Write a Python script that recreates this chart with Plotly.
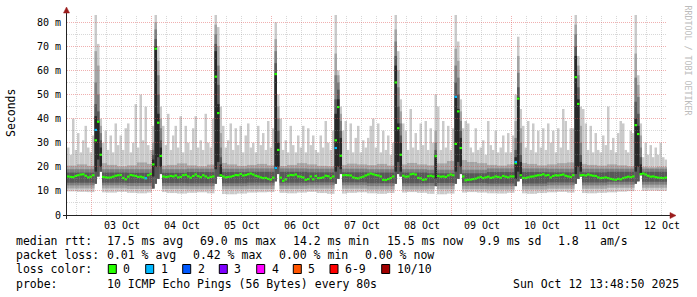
import plotly.graph_objects as go
import pandas as pd

# ---------------- data ----------------
START = "2025-10-02 14:00"          # first hourly column
N_HOURS = 240

x_labels = ["03 Oct", "04 Oct", "05 Oct", "06 Oct", "07 Oct",
            "08 Oct", "09 Oct", "10 Oct", "11 Oct", "12 Oct"]
y_ticks = [0, 10, 20, 30, 40, 50, 60, 70, 80]
y_labels = ["0", "10 m", "20 m", "30 m", "40 m", "50 m", "60 m", "70 m", "80 m"]

# highest of the 10 pings, per hour (ms)
ping_max = [
    28, 25, 40, 27, 34, 26, 31, 37, 28, 26,
    33, 83, 71,
    40, 30, 35, 27, 33, 26, 38, 29, 33, 27, 36, 38, 26, 30, 46, 28, 50, 31, 45, 29, 27,
    37, 84, 70, 45,
    37, 29, 42, 27, 33, 37, 28, 41, 26, 37, 30, 27, 36, 41, 28, 31, 27, 42, 30, 28,
    40, 84, 78, 45,
    37, 28, 31, 38, 27, 36, 29, 37, 26, 33, 38, 28, 30, 26, 37, 29, 34, 27, 39, 28,
    36, 80, 50, 40,
    27, 31, 26, 37, 29, 26, 33, 28, 37, 26, 36, 29, 33, 27, 26, 33, 28, 39, 30, 27,
    35, 83, 60, 45, 35,
    39, 27, 38, 26, 32, 37, 26, 31, 28, 32, 37, 40, 28, 38, 26, 35, 27, 33, 25,
    30, 84, 68, 48, 38,
    35, 27, 44, 28, 34, 27, 38, 29, 39, 27, 36, 30, 50, 45, 27, 39, 28, 37, 27,
    36, 84, 72, 48, 36,
    39, 38, 28, 26, 36, 27, 28, 31, 25, 39, 29, 27, 35, 26, 28, 33, 26, 34, 26,
    33, 50, 74, 44,
    37, 28, 39, 27, 38, 26, 35, 28, 36, 27, 38, 30, 35, 26, 36, 28, 44, 39, 27, 36,
    36, 84, 66, 45,
    44, 38, 27, 37, 26, 34, 27, 26, 33, 29, 45, 27, 32, 26, 34, 39, 38, 27, 26, 35,
    34, 83, 58, 38,
    24, 30, 25, 29, 24, 28, 25, 30, 24, 23,
]

# median rtt per hour (ms)
median = [
    16.0, 15.8, 15.7, 16.2, 16.5, 16.8, 16.9, 16.3, 15.6, 15.9,
    16.5, 31.0, 38.7, 25.0,
    15.8, 15.6, 15.5, 15.6, 15.9, 16.3, 16.5, 16.6, 15.4, 14.8, 15.9, 16.6, 16.4, 16.2, 15.8, 15.9, 15.6, 15.2, 16.5, 17.0,
    21.0, 69.0, 38.3, 24.5,
    16.0, 15.8, 15.9, 16.2, 16.0, 16.4, 15.6, 15.8, 16.5, 16.7, 16.0, 15.5, 16.2, 16.8, 16.1, 15.7, 16.5, 16.0, 15.4, 15.8,
    16.0, 57.4, 42.3, 16.5,
    16.0, 15.6, 15.8, 15.9, 16.2, 16.6, 16.5, 17.0, 16.4, 16.6, 16.9, 17.2, 16.8, 16.3, 16.0, 15.6, 15.3, 15.4, 15.0, 14.7,
    15.5, 58.5, 27.0, 15.5,
    14.2, 14.8, 16.3, 16.6, 16.5, 16.8, 16.0, 15.9, 15.6, 14.6, 14.9, 16.0, 14.8, 16.2, 15.3, 15.4, 15.6, 16.3, 16.1, 15.3,
    16.0, 31.0, 44.8, 24.6, 16.5,
    16.6, 16.5, 16.4, 15.6, 15.3, 15.2, 15.6, 15.9, 16.4, 16.8, 17.2, 16.9, 16.6, 16.4, 16.0, 14.6, 14.5, 14.9, 15.3,
    16.0, 55.0, 36.0, 25.0, 16.3,
    15.9, 16.0, 16.9, 17.1, 16.8, 15.4, 15.2, 14.6, 14.8, 16.1, 16.3, 16.0, 24.4, 16.2, 15.9, 16.0, 15.8, 16.4, 16.8,
    16.5, 29.5, 43.0, 27.8, 16.0,
    14.4, 14.6, 14.7, 14.9, 15.1, 15.5, 15.8, 15.3, 15.6, 15.9, 15.4, 15.6, 16.0, 15.8, 15.5, 16.2, 15.9, 15.6, 16.0,
    16.0, 21.5, 48.3, 16.5,
    15.4, 15.3, 15.6, 15.9, 16.0, 16.3, 16.5, 16.6, 16.9, 16.4, 16.6, 15.6, 16.2, 16.5, 16.4, 16.6, 16.8, 16.3, 16.0, 15.8,
    16.5, 57.2, 46.1, 16.5,
    16.6, 16.4, 16.8, 16.5, 16.3, 16.2, 15.6, 15.3, 15.4, 15.6, 15.3, 15.0, 14.8, 14.6, 15.0, 14.8, 15.3, 15.6, 15.9, 15.7,
    16.0, 37.3, 33.6, 17.0,
    17.2, 16.8, 16.3, 15.9, 16.0, 15.7, 15.5, 15.4, 15.3, 15.5,
]

# lowest ping and 9th ping, per 4-hour block (ms)
block4_p1 = [
    9.8, 9.6, 9.5, 9.4, 9.3, 9.6, 9.2, 9.0, 9.3, 9.5,
    9.1, 8.9, 9.2, 9.4, 9.0, 8.7, 8.6, 8.9, 9.3, 9.4,
    9.5, 9.2, 9.0, 9.3, 9.6, 9.1, 8.8, 8.9, 9.2, 9.4,
    9.0, 8.8, 9.1, 9.3, 9.5, 9.2, 8.8, 8.6, 8.9, 9.3,
    9.5, 9.3, 9.0, 8.9, 9.2, 9.0, 8.8, 9.1, 9.4, 9.6,
    9.3, 9.1, 9.0, 9.2, 9.4, 9.7, 9.9, 10.0, 10.1, 10.0,
]
block4_p9 = [
    20.5, 21.0, 20.4, 21.5, 20.8, 20.2, 20.6, 21.8, 21.2, 20.5,
    20.8, 21.4, 20.6, 20.2, 20.9, 21.6, 21.0, 20.4, 20.8, 21.2,
    20.6, 20.3, 20.8, 21.5, 21.0, 20.4, 20.2, 20.8, 21.3, 21.0,
    20.7, 21.2, 20.5, 21.0, 21.6, 21.0, 20.6, 21.4, 22.4, 22.8,
    22.0, 21.5, 20.8, 20.5, 21.0, 21.6, 21.2, 20.6, 21.0, 21.5,
    21.8, 21.2, 20.8, 20.5, 21.0, 20.6, 20.2, 20.0, 19.8, 20.0,
]
# inner pings, per day-long block (ms)
daily_p2 = [11.0, 10.8, 10.7, 10.8, 10.9, 10.6, 10.7, 10.6, 10.9, 11.3]
daily_p3 = [12.3, 12.1, 12.0, 12.2, 12.3, 12.0, 12.1, 12.0, 12.3, 12.6]
daily_p4 = [13.4, 13.3, 13.2, 13.4, 13.5, 13.2, 13.3, 13.1, 13.5, 13.8]
daily_p7 = [17.6, 17.5, 17.8, 17.9, 17.7, 17.6, 17.3, 17.8, 17.7, 17.9]
daily_p8 = [19.0, 19.0, 19.2, 19.3, 19.2, 19.0, 18.8, 19.3, 19.2, 19.2]

# hours with latency spikes and their ping spread (ms)
spike_hour = [11, 12, 13, 34, 35, 36, 37, 59, 60, 61, 83, 84, 107, 108, 109,
              131, 132, 133, 147, 155, 156, 157, 179, 180, 181, 203, 204, 205,
              227, 228, 229]
spike_p1 = [13, 16, 18, 11, 13, 15, 17, 13, 16, 16, 14, 17, 13, 15, 17,
            13, 17, 16, 12, 13, 15, 17, 12, 14, 15, 13, 15, 16,
            13, 14, 16.5]
spike_p5 = [18, 23, 20, 16, 20, 24, 20, 19, 22, 16, 19, 20, 18, 20, 19,
            18, 22, 18, 15, 18, 22, 20, 15, 18, 16, 17, 20, 18,
            18, 20, 17]
spike_p6 = [41, 39, 28, 23, 70, 42, 28, 68, 46, 21, 58, 30, 42, 48, 32,
            62, 38, 30, 25, 49, 44, 32, 24, 49, 22, 66, 48, 22,
            40, 37, 21]
spike_p7 = [46, 43, 31, 25, 73, 50, 31, 71, 54, 24, 63, 35, 48, 52, 35,
            66, 45, 33, 27, 55, 50, 35, 27, 53, 25, 70, 53, 25,
            47, 42, 24]
spike_p8 = [55, 50, 34, 27, 77, 58, 36, 75, 62, 28, 68, 40, 58, 55, 39,
            72, 53, 38, 30, 62, 57, 39, 32, 59, 30, 75, 58, 30,
            57, 49, 28]
spike_p9 = [68, 62, 37, 30, 80, 64, 40, 79, 70, 34, 73, 45, 67, 58, 42,
            77, 60, 43, 35, 69, 64, 43, 39, 66, 36, 79, 62, 37,
            67, 54, 33]

# columns where 1 of 10 pings was lost (median drawn in loss colour)
loss1_hour = [11, 31, 83, 107, 155, 179]
loss1_ms = [35.3, 15.3, 19.5, 27.8, 49.0, 22.0]

legend_rows = [
    [("median rtt:", 16), ("17.5 ms avg", 107.3), ("69.0 ms max", 200), ("14.2 ms min", 293.3),
     ("15.5 ms now", 386.7), ("9.9 ms sd", 479.3), ("1.8", 558), ("am/s", 600)],
    [("packet loss:", 16), ("0.01 % avg", 107.3), ("0.42 % max", 193.3), ("0.00 % min", 279.3),
     ("0.00 % now", 365)],
    [("loss color:", 16)],
    [("probe:", 16), ("10 ICMP Echo Pings (56 Bytes) every 80s", 107.3),
     ("Sun Oct 12 13:48:50 2025", 513.3)],
]
loss_labels = ["0", "1", "2", "3", "4", "5", "6-9", "10/10"]
loss_colors = ["#26ff00", "#00b8ff", "#0059ff", "#7e00ff", "#ff00ff", "#ff5500", "#ff0000", "#a10000"]

# ---------------- build ----------------
t0 = pd.Timestamp(START)
HOUR = pd.Timedelta(hours=1)
HOUR_MS = 3600 * 1000
hours = list(range(N_HOURS))
xc = [t0 + (h + 0.5) * HOUR for h in hours]

p1 = [block4_p1[h // 4] for h in hours]
p9 = [block4_p9[h // 4] for h in hours]
p2 = [daily_p2[h // 24] for h in hours]
p3 = [daily_p3[h // 24] for h in hours]
p4 = [daily_p4[h // 24] for h in hours]
p7 = [daily_p7[h // 24] for h in hours]
p8 = [daily_p8[h // 24] for h in hours]
for i, h in enumerate(spike_hour):
    p1[h] = p2[h] = p3[h] = p4[h] = spike_p1[i]
    p7[h], p8[h], p9[h] = spike_p7[i], spike_p8[i], spike_p9[i]

MW = 0.45  # half height of the median marker (ms)


def band(xs, lo, hi, color):
    return go.Bar(x=xs, base=lo, y=[b - a for a, b in zip(lo, hi)], width=HOUR_MS,
                  marker=dict(color=color, line=dict(width=0)),
                  hoverinfo="skip", showlegend=False)


fig = go.Figure()
fig.add_trace(band(xc, p1, ping_max, "#cacaca"))
fig.add_trace(band(xc, p2, p9, "#a4a4a4"))
fig.add_trace(band(xc, p3, p8, "#7e7e7e"))
fig.add_trace(band(xc, p4, p7, "#585858"))
fig.add_trace(band([xc[h] for h in spike_hour], spike_p5, spike_p6, "#282828"))
fig.add_trace(band(xc, [m - MW for m in median], [m + MW for m in median], loss_colors[0]))
fig.add_trace(band([xc[h] for h in loss1_hour], [v - MW for v in loss1_ms],
                   [v + MW for v in loss1_ms], loss_colors[1]))

# geometry of the canvas (pixels)
L, T, W, H = 67, 15, 600, 200
Y_MAX = 83.0


def px(x):
    return (x - L) / W


def py(y):
    return (T + H - y) / H


shapes = []
half_px_time = pd.Timedelta(hours=N_HOURS / W * 0.5)
MAJOR = "rgba(222,79,79,0.45)"
MINOR = "rgba(143,143,143,0.35)"
for h in range(1, N_HOURS + 1):
    t = t0 + h * HOUR
    if t.hour % 6 == 0:
        xg = t - half_px_time
        shapes.append(dict(type="line", xref="x", yref="paper", x0=xg, x1=xg, y0=0, y1=1,
                           layer="above",
                           line=dict(color=MAJOR if t.hour == 0 else MINOR, width=1, dash="1px,1px")))
for v in range(5, 85, 5):
    if v > Y_MAX:
        continue
    ypix = int(T + H - v * H / Y_MAX) + 0.5
    shapes.append(dict(type="line", xref="paper", yref="paper", x0=0, x1=1,
                       y0=py(ypix), y1=py(ypix), layer="above",
                       line=dict(color=MAJOR if v % 10 == 0 else MINOR, width=1, dash="1px,1px")))

AXIS = "#222222"
ARROW = "#9b1c1c"
shapes.append(dict(type="line", xref="paper", yref="paper", x0=px(66.5), x1=px(66.5),
                   y0=py(219), y1=py(11), line=dict(color=AXIS, width=1), layer="above"))
shapes.append(dict(type="line", xref="paper", yref="paper", x0=px(63), x1=px(671),
                   y0=py(215.5), y1=py(215.5), line=dict(color=AXIS, width=1), layer="above"))
shapes.append(dict(type="path", xref="paper", yref="paper",
                   path=f"M {px(66.5)} {py(7)} L {px(63.5)} {py(13)} L {px(69.5)} {py(13)} Z",
                   fillcolor=ARROW, line=dict(color=ARROW, width=0.5), layer="above"))
shapes.append(dict(type="path", xref="paper", yref="paper",
                   path=f"M {px(676)} {py(215.5)} L {px(670)} {py(212.5)} L {px(670)} {py(218.5)} Z",
                   fillcolor=ARROW, line=dict(color=ARROW, width=0.5), layer="above"))

FONT = "DejaVu Sans Mono"
annotations = []


def txt(s, x, y, size=11.5, color="black", angle=0, xanchor="left"):
    annotations.append(dict(text=s, x=px(x), y=py(y), xref="paper", yref="paper",
                            xanchor=xanchor, yanchor="middle", showarrow=False,
                            textangle=angle, borderpad=0, borderwidth=0,
                            font=dict(family=FONT, size=size, color=color)))


row_y = [241.3, 255.3, 269.0, 283.7]
for row, yy in zip(legend_rows, row_y):
    for s, xx in row:
        txt(s, xx, yy)

box_x = [108.3, 145.7, 182.7, 219.3, 256.7, 293.3, 330.0, 381.7]
for bx, lab, colr in zip(box_x, loss_labels, loss_colors):
    shapes.append(dict(type="rect", xref="paper", yref="paper",
                       x0=px(bx), x1=px(bx + 8), y0=py(273.5), y1=py(264.5),
                       fillcolor=colr, line=dict(color="black", width=1)))
    txt(lab, bx + 15, row_y[2])

txt("Seconds", 11, 113, angle=-90, xanchor="center")
txt("RRDTOOL / TOBI OETIKER", 687.5, 60, size=8.3, color="#bcbcbc", angle=90, xanchor="center")

noons = [t0 + pd.Timedelta(hours=22 + 24 * i) for i in range(len(x_labels))]

fig.update_layout(
    width=697, height=297, autosize=False,
    margin=dict(l=L, r=697 - L - W, t=T, b=297 - T - H, pad=0),
    paper_bgcolor="white", plot_bgcolor="white",
    barmode="overlay", showlegend=False,
    xaxis=dict(type="date", range=[t0, t0 + N_HOURS * HOUR],
               tickvals=noons, ticktext=x_labels, showgrid=False, zeroline=False,
               showline=False, ticks="", ticklabelstandoff=3,
               tickfont=dict(family=FONT, size=10, color="black"), fixedrange=True),
    yaxis=dict(range=[0, Y_MAX], tickvals=y_ticks, ticktext=y_labels, showgrid=False,
               zeroline=False, showline=False, ticks="", ticklabelstandoff=5,
               tickfont=dict(family=FONT, size=10, color="black"), fixedrange=True),
    shapes=shapes, annotations=annotations,
)

fig.write_html("out.html")
